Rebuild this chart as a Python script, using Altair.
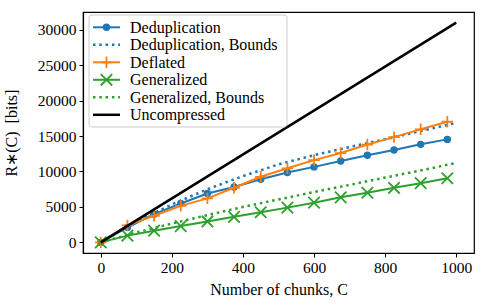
import altair as alt
import pandas as pd

# ---------------- data ----------------
C_marks = [0, 75, 150, 225, 300, 375, 450, 525, 600, 675, 750, 825, 900, 975]
dedup = [0, 2100, 3980, 5480, 6900, 7820, 8900, 9850, 10650, 11480, 12280, 13030, 13830, 14530]
deflated = [0, 2400, 3750, 5150, 6200, 7700, 9250, 10450, 11600, 12600, 13800, 14850, 15950, 17020]
generalized = [0, 950, 1650, 2300, 2950, 3600, 4250, 4900, 5600, 6350, 7000, 7700, 8350, 9050]

C_bounds = [0, 100, 200, 300, 400, 500, 600, 700, 800, 900, 1000]
dedup_bounds = [0, 2950, 5350, 7500, 9350, 11000, 12300, 13450, 14550, 15700, 16850]
gen_bounds = [0, 1400, 2650, 3850, 5000, 6050, 7100, 8100, 9150, 10150, 11200]

C_unc = [0, 1000]
uncompressed = [0, 31000]

x_ticks = [0, 200, 400, 600, 800, 1000]
y_ticks = [0, 5000, 10000, 15000, 20000, 25000, 30000]

legend_labels = ["Deduplication", "Deduplication, Bounds", "Deflated",
                 "Generalized", "Generalized, Bounds", "Uncompressed"]

BLUE, ORANGE, GREEN, BLACK = "#1f77b4", "#ff7f0e", "#2ca02c", "#000000"
FONT = "Liberation Serif"
PLUS = "M-1,0L1,0M0,-1L0,1"
CROSS = "M-1,-1L1,1M-1,1L1,-1"
DOT = [2.5, 3.8]

W, H = 391, 241

xenc = alt.X("C:Q", scale=alt.Scale(domain=[-50, 1050], nice=False, zero=False),
             axis=alt.Axis(values=x_ticks, title="Number of chunks, C", format="d"))
yenc = alt.Y("R:Q", scale=alt.Scale(domain=[-1500, 32500], nice=False, zero=False),
             axis=alt.Axis(values=y_ticks, title="R\u2217(C)\u00a0\u00a0[bits]", format="d"))


def line_layer(xs, ys, color, width=2.0, dash=None):
    df = pd.DataFrame({"C": xs, "R": ys})
    kw = dict(color=color, strokeWidth=width, strokeCap="butt")
    if dash:
        kw["strokeDash"] = dash
    return alt.Chart(df).mark_line(**kw).encode(x=xenc, y=yenc)


def point_layer(xs, ys, color, shape, size, filled, sw=1.8):
    df = pd.DataFrame({"C": xs, "R": ys})
    if filled:
        m = alt.Chart(df).mark_point(shape=shape, size=size, filled=True,
                                     color=color, opacity=1, strokeWidth=0)
    else:
        m = alt.Chart(df).mark_point(shape=shape, size=size, filled=False,
                                     color=color, opacity=1, strokeWidth=sw)
    return m.encode(x=xenc, y=yenc)


layers = [
    line_layer(C_marks, dedup, BLUE),
    point_layer(C_marks, dedup, BLUE, "circle", 55, True),
    line_layer(C_bounds, dedup_bounds, BLUE, 2.5, DOT),
    line_layer(C_marks, deflated, ORANGE),
    point_layer(C_marks, deflated, ORANGE, PLUS, 130, False),
    line_layer(C_marks, generalized, GREEN),
    point_layer(C_marks, generalized, GREEN, CROSS, 130, False),
    line_layer(C_bounds, gen_bounds, GREEN, 2.5, DOT),
    line_layer(C_unc, uncompressed, BLACK, 2.5),
]

# ---------------- legend (drawn in pixel space of the plot area) ----------------
one = pd.DataFrame({"a": [0]})
lx0, lx1, ly0, ly1 = 6, 204, 3, 115
layers.append(
    alt.Chart(one).mark_rect(fill="white", fillOpacity=0.8, stroke="#cccccc",
                             strokeWidth=1, cornerRadius=3)
    .encode(x=alt.value(lx0), x2=alt.value(lx1), y=alt.value(ly0), y2=alt.value(ly1))
)

styles = [
    (BLUE, None, 2.0, ("circle", 55, True)),
    (BLUE, DOT, 2.5, None),
    (ORANGE, None, 2.0, (PLUS, 130, False)),
    (GREEN, None, 2.0, (CROSS, 130, False)),
    (GREEN, DOT, 2.5, None),
    (BLACK, None, 2.5, None),
]
row0, dy = 15.3, 17.5
for i, (label, (col, dash, sw, mk)) in enumerate(zip(legend_labels, styles)):
    yy = row0 + i * dy
    kw = dict(color=col, strokeWidth=sw, strokeCap="butt")
    if dash:
        kw["strokeDash"] = dash
    layers.append(alt.Chart(one).mark_rule(**kw).encode(
        x=alt.value(10), x2=alt.value(37), y=alt.value(yy), y2=alt.value(yy)))
    if mk:
        shape, size, filled = mk
        if filled:
            p = alt.Chart(one).mark_point(shape=shape, size=size, filled=True, color=col,
                                          opacity=1, strokeWidth=0)
        else:
            p = alt.Chart(one).mark_point(shape=shape, size=size, filled=False, color=col,
                                          opacity=1, strokeWidth=1.8)
        layers.append(p.encode(x=alt.value(23.5), y=alt.value(yy)))
    layers.append(alt.Chart(pd.DataFrame({"t": [label]})).mark_text(
        align="left", baseline="middle", font=FONT, fontSize=16, color="black")
        .encode(x=alt.value(47), y=alt.value(yy + 0.5), text="t:N"))

chart = alt.layer(*layers).properties(
    width=W, height=H,
    autosize=alt.AutoSizeParams(type="none"),
    padding={"left": 83, "top": 12, "right": 12, "bottom": 55},
    background="white",
).configure_view(
    stroke="black", strokeWidth=1.2
).configure_axis(
    grid=False,
    domainColor="black", domainWidth=1.2,
    tickColor="black", tickWidth=1, tickSize=4,
    labelFont=FONT, labelFontSize=15.5, labelColor="black", labelPadding=3,
    titleFont=FONT, titleFontSize=16, titleFontWeight="normal", titleColor="black",
).configure_axisX(
    titlePadding=6
).configure_axisY(
    titlePadding=18
)

chart.save("out.html", embed_options={"renderer": "svg", "actions": False})
